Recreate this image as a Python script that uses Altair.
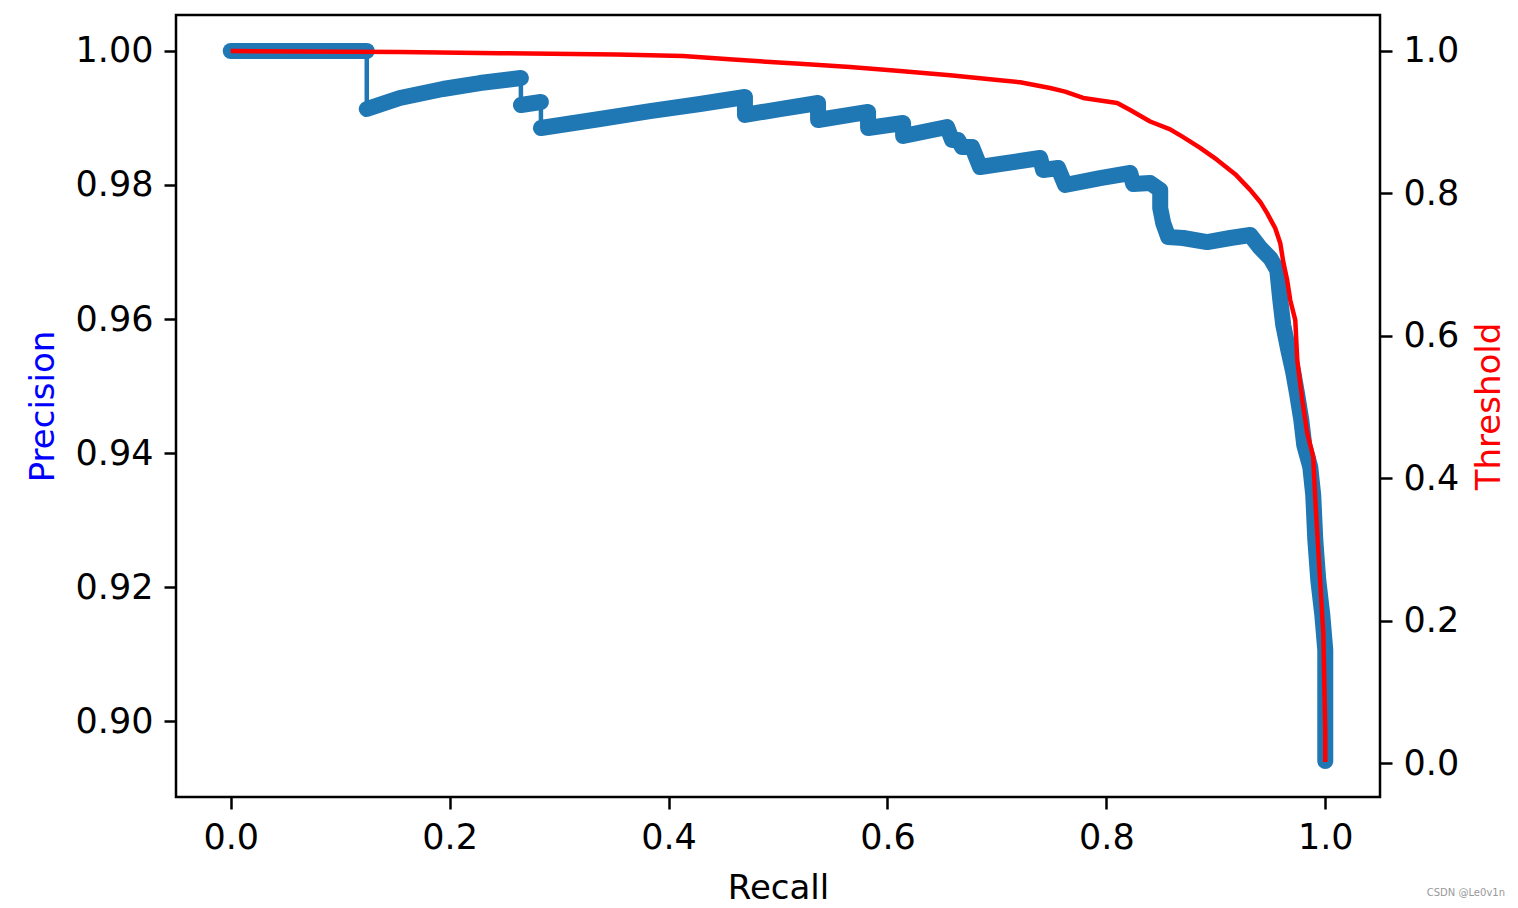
import altair as alt
import pandas as pd

# Precision-recall curve
recall_p = [0.0000, 0.1243,
            0.1243, 0.1545, 0.1938, 0.2276, 0.2651,
            0.2651, 0.2834,
            0.2834, 0.3373, 0.3830, 0.4287, 0.4698,
            0.4698, 0.5018, 0.5366,
            0.5366, 0.5823,
            0.5823, 0.6143,
            0.6143, 0.6545,
            0.6590, 0.6645, 0.6682, 0.6773, 0.6846, 0.7029, 0.7212, 0.7395,
            0.7422, 0.7559, 0.7623, 0.7943, 0.8218,
            0.8245, 0.8400, 0.8492, 0.8492, 0.8519, 0.8565, 0.8702, 0.8921, 0.9132, 0.9314,
            0.9406, 0.9497, 0.9561, 0.9589, 0.9616, 0.9662, 0.9707, 0.9744, 0.9781, 0.9808,
            0.9863, 0.9890, 0.9909, 0.9936, 0.9973, 1.0000, 1.0000, 1.0000]
precision = [1.00000, 1.00000,
             0.99134, 0.99299, 0.99433, 0.99522, 0.99597,
             0.99194, 0.99239,
             0.98851, 0.98985, 0.99104, 0.99209, 0.99313,
             0.99045, 0.99134, 0.99224,
             0.98970, 0.99090,
             0.98851, 0.98925,
             0.98731, 0.98866,
             0.98672, 0.98672, 0.98567, 0.98567, 0.98269, 0.98313, 0.98358, 0.98403,
             0.98224, 0.98254, 0.98000, 0.98104, 0.98179,
             0.98015, 0.98030, 0.97925, 0.97657, 0.97433, 0.97224, 0.97209, 0.97149, 0.97209, 0.97254,
             0.97060, 0.96910, 0.96731, 0.96284, 0.95910, 0.95537, 0.95209, 0.94866, 0.94493, 0.94119,
             0.93791, 0.93373, 0.92701, 0.92104, 0.91582, 0.91060, 0.90313, 0.89403]
segment = [0, 0,
           1, 1, 1, 1, 1,
           2, 2] + [3] * (len(recall_p) - 9)

# Threshold curve
recall_t = [0.0000, 0.1545, 0.2459, 0.3528, 0.4132, 0.4589, 0.5201, 0.5658, 0.6115, 0.6572,
            0.7029, 0.7212, 0.7486, 0.7623, 0.7788, 0.8099, 0.8218, 0.8400, 0.8583, 0.8702,
            0.8857, 0.9013, 0.9177, 0.9314, 0.9406, 0.9470, 0.9543, 0.9589, 0.9616, 0.9652,
            0.9680, 0.9726, 0.9744, 0.9790, 0.9835, 0.9890, 0.9909, 0.9936, 0.9954, 0.9982,
            1.0000, 1.0000]
threshold = [1.0000, 0.9985, 0.9970, 0.9950, 0.9930, 0.9880, 0.9820, 0.9775, 0.9720, 0.9660,
             0.9590, 0.9560, 0.9480, 0.9430, 0.9340, 0.9270, 0.9170, 0.9010, 0.8900, 0.8790,
             0.8640, 0.8470, 0.8270, 0.8050, 0.7880, 0.7720, 0.7510, 0.7300, 0.7040, 0.6780,
             0.6500, 0.6220, 0.5660, 0.5098, 0.4635, 0.4298, 0.3694, 0.2992, 0.2528, 0.1826,
             0.0421, 0.0014]

x_ticks = [0.0, 0.2, 0.4, 0.6, 0.8, 1.0]
p_ticks = [0.90, 0.92, 0.94, 0.96, 0.98, 1.00]
t_ticks = [0.0, 0.2, 0.4, 0.6, 0.8, 1.0]

prec_df = pd.DataFrame({"recall": recall_p, "precision": precision,
                        "segment": segment, "idx": list(range(len(recall_p)))})
thr_df = pd.DataFrame({"recall": recall_t, "threshold": threshold,
                       "idx": list(range(len(recall_t)))})

BLUE = "#1f77b4"
FONT = "DejaVu Sans"

x_enc = alt.X("recall:Q",
              scale=alt.Scale(domain=[-0.05, 1.05], nice=False, zero=False),
              axis=alt.Axis(values=x_ticks, format=".1f", title="Recall",
                            titlePadding=16))
y_p = alt.Y("precision:Q",
            scale=alt.Scale(domain=[0.888657, 1.005373], nice=False, zero=False),
            axis=alt.Axis(values=p_ticks, format=".2f", title="Precision",
                          titleColor="#0000ff", titlePadding=15))
y_t = alt.Y("threshold:Q",
            scale=alt.Scale(domain=[-0.04775, 1.05056], nice=False, zero=False),
            axis=alt.Axis(values=t_ticks, format=".1f", title="Threshold", orient="right",
                          titleColor="#ff0000", titleAngle=270, titleBaseline="top",
                          titlePadding=14))

thin = alt.Chart(prec_df).mark_line(color=BLUE, strokeWidth=4.5).encode(
    x=x_enc, y=y_p, order="idx:Q")
thick = alt.Chart(prec_df).mark_line(color=BLUE, strokeWidth=16, strokeCap="round",
                                     strokeJoin="round").encode(
    x=x_enc, y=y_p, detail="segment:N", order="idx:Q")
prec_layer = alt.layer(thin, thick)

thr = alt.Chart(thr_df).mark_line(color="#ff0000", strokeWidth=4.5,
                                  strokeJoin="round").encode(
    x=x_enc, y=y_t, order="idx:Q")

chart = alt.layer(prec_layer, thr).resolve_scale(y="independent").properties(
    width=1204, height=782,
    autosize=alt.AutoSizeParams(type="none"),
    padding={"left": 168, "top": 7, "right": 130, "bottom": 111},
    title=alt.TitleParams("CSDN @Le0v1n", orient="bottom", anchor="end", frame="group",
                          fontSize=10, color="#999999", fontWeight="normal", font=FONT,
                          baseline="middle", dx=125, offset=-12),
).configure_view(stroke="black", strokeWidth=2.5).configure_axis(
    domain=False, grid=False, tickColor="black", tickWidth=2.5, tickSize=12,
    labelFont=FONT, labelFontSize=35, labelColor="black", labelPadding=11,
    titleFont=FONT, titleFontSize=34, titleFontWeight="normal", titleColor="black",
)

chart.save("out.html", embed_options={"renderer": "svg", "actions": False})
